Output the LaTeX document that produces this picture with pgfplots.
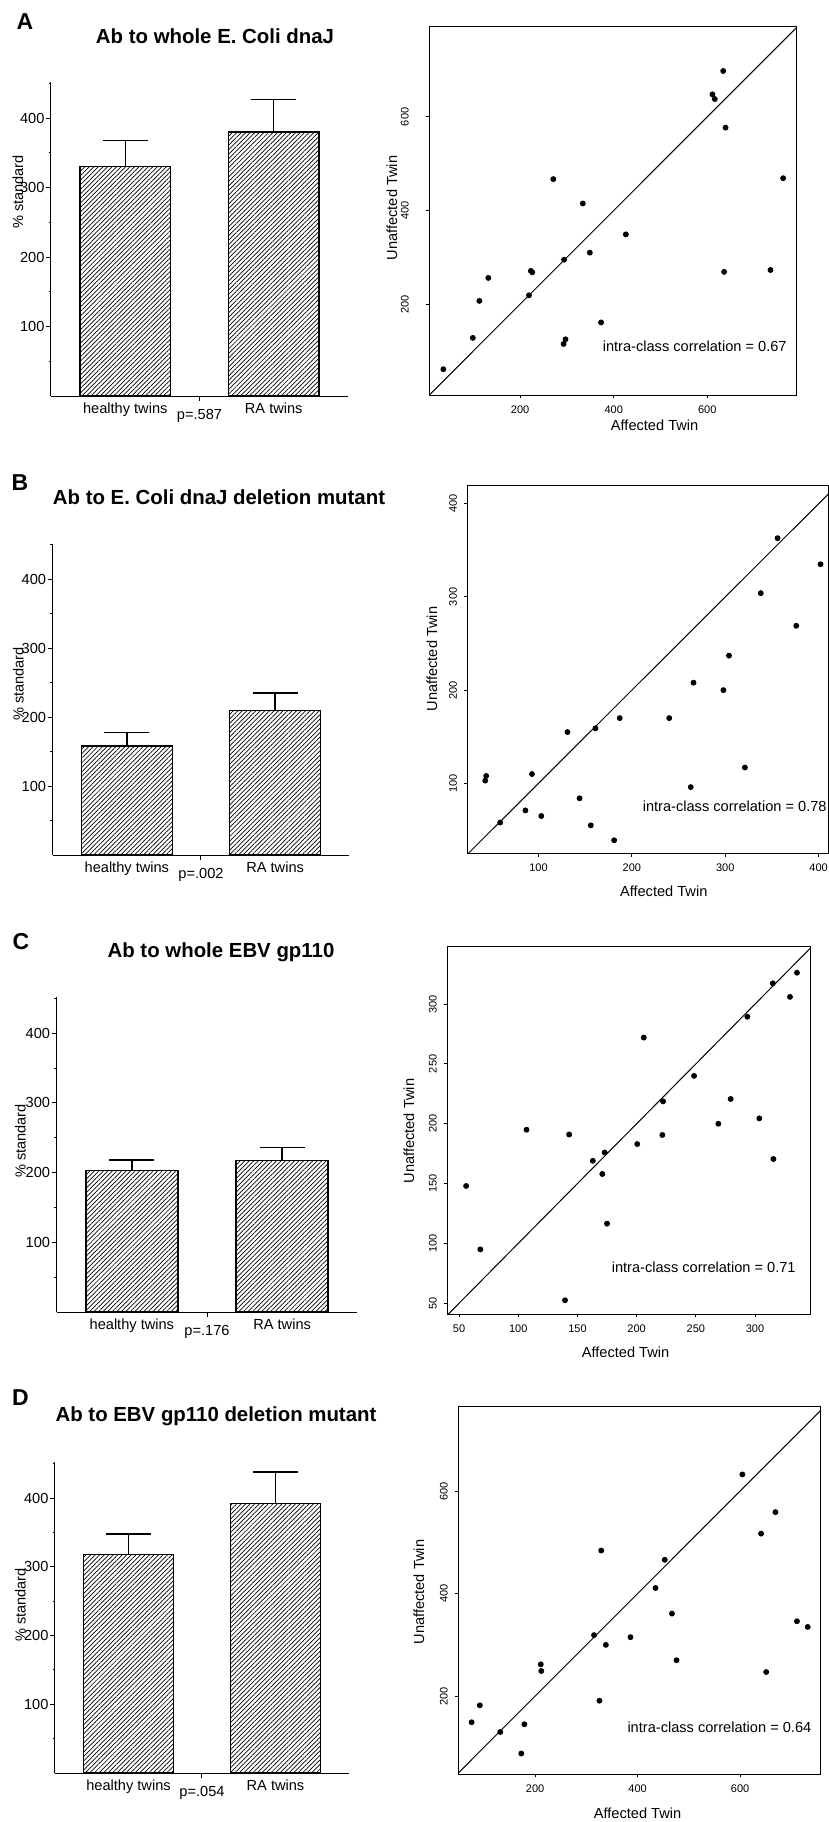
\documentclass[border=0pt]{standalone}
\usepackage{fontspec}
\setmainfont{Liberation Sans}
\usepackage{pgfplots}
\pgfplotsset{compat=1.18}
\usetikzlibrary{patterns.meta}

% 1 px of the reference = 0.5pt
\newcommand{\fbar}{\fontsize{7.3}{8.5}\selectfont}
\newcommand{\fsc}{\fontsize{5.5}{6.5}\selectfont}
\newcommand{\ftitle}{\fontsize{10.2}{12}\selectfont\bfseries}
\newcommand{\fletter}{\fontsize{11.5}{13}\selectfont\bfseries}

\pgfplotsset{
  barax/.style={
    scale only axis, xmin=0, xmax=1, ymin=0, ymax=452,
    axis x line=bottom, axis y line=left,
    axis line style={-, line width=0.5pt},
    ytick={100,200,300,400}, minor ytick={50,150,250,350,450},
    tick align=outside, major tick length=2.3pt, minor tick length=1.2pt,
    tick style={black, line width=0.5pt},
    xtick={0.5},
    xticklabel style={yshift=-1pt},
    extra x ticks={0.25,0.75},
    extra x tick labels={healthy twins,RA twins},
    extra x tick style={major tick length=0pt, xticklabel style={yshift=1pt}},
    ticklabel style={font=\fbar},
    yticklabel style={inner sep=0.8pt},
    /pgf/number format/assume math mode=true,
    clip=false,
  },
  hatch/.style={
    ybar, bar width=0.306, draw=black, line width=0.7pt,
    pattern={Lines[angle=45,distance=1.6pt,line width=0.35pt]},
    error bars/.cd, y dir=plus, y explicit,
    error bar style={line width=0.7pt},
    error mark options={rotate=90, line width=0.7pt, mark size=11.25pt},
  },
  scat/.style={
    scale only axis, tick pos=left,
    axis line style={line width=0.5pt},
    tick align=outside, major tick length=1.7pt,
    tick style={black, line width=0.5pt},
    ticklabel style={font=\fsc},
    yticklabel style={rotate=90, anchor=south},
    /pgf/number format/assume math mode=true,
  },
  dots/.style={only marks, mark=*, mark size=1.25pt, black},
  diag/.style={black, line width=0.5pt, forget plot},
}

\begin{document}
\begin{tikzpicture}
\path[use as bounding box] (0,0) rectangle (414.5pt,-911pt);

% ---------------- A ----------------
\node[font=\fletter] at (12.5pt,-11pt) {A};
\node[font=\ftitle] at (107.5pt,-18pt) {Ab to whole E. Coli dnaJ};
\node[font=\fbar, rotate=90, inner sep=0pt] at (9pt,-96pt) {\% standard};
\begin{axis}[barax, at={(25.5pt,-198pt)}, anchor=south west,
  width=148.5pt, height=157pt, xticklabels={p=.587}]
\addplot[hatch] coordinates {(0.25,330) +- (0,38) (0.75,380) +- (0,47)};
\end{axis}

\begin{axis}[scat, at={(214.65pt,-197.5pt)}, anchor=south west,
  width=183.7pt, height=184.5pt, xmin=6, xmax=791, ymin=6, ymax=794,
  xtick={200,400,600}, ytick={200,400,600}, yticklabel shift=5pt]
\addplot[diag] coordinates {(0,0) (1000,1000)};
\addplot[dots] coordinates {
  (36,61) (99,128) (113,207) (132,256) (219,219) (223,271) (226,268)
  (271,467) (294,295) (293,115) (297,125) (334,415) (349,310) (373,161)
  (426,349) (611,648) (616,638) (634,698) (639,577) (636,269) (735,273)
  (762,469) };
\end{axis}
\node[font=\fbar, rotate=90, inner sep=0pt] at (196pt,-104pt) {Unaffected Twin};
\node[font=\fbar, inner sep=0pt] at (327.3pt,-212.8pt) {Affected Twin};
\node[font=\fbar, anchor=east, inner sep=0pt] at (393.5pt,-173.35pt) {intra-class correlation = 0.67};

% ---------------- B ----------------
\node[font=\fletter] at (10pt,-241.5pt) {B};
\node[font=\ftitle] at (109.5pt,-248.5pt) {Ab to E. Coli dnaJ deletion mutant};
\node[font=\fbar, rotate=90, inner sep=0pt] at (9.25pt,-342pt) {\% standard};
\begin{axis}[barax, at={(26.35pt,-427.5pt)}, anchor=south west,
  width=148.3pt, height=155.7pt, xticklabels={p=.002}]
\addplot[hatch] coordinates {(0.25,158) +- (0,20) (0.75,210) +- (0,25)};
\end{axis}

\begin{axis}[scat, at={(233.75pt,-426.65pt)}, anchor=south west,
  width=180.25pt, height=184.15pt, xmin=24, xmax=410, ymin=25, ymax=420,
  xtick={100,200,300,400}, ytick={100,200,300,400}]
\addplot[diag] coordinates {(0,0) (1000,1000)};
\addplot[dots] coordinates {
  (43,103) (44,108) (59,58) (86,71) (93,110) (103,65) (131,155) (144,84)
  (156,55) (161,159) (181,39) (187,170) (240,170) (266,208) (263,96)
  (298,200) (304,237) (321,117) (338,304) (356,363) (376,269) (402,335) };
\end{axis}
\node[font=\fbar, rotate=90, inner sep=0pt] at (216pt,-329.5pt) {Unaffected Twin};
\node[font=\fbar, inner sep=0pt] at (331.85pt,-445.85pt) {Affected Twin};
\node[font=\fbar, anchor=east, inner sep=0pt] at (413.5pt,-403.35pt) {intra-class correlation = 0.78};

% ---------------- C ----------------
\node[font=\fletter] at (10.5pt,-471pt) {C};
\node[font=\ftitle] at (110.5pt,-476pt) {Ab to whole EBV gp110};
\node[font=\fbar, rotate=90, inner sep=0pt] at (10.25pt,-570.5pt) {\% standard};
\begin{axis}[barax, at={(28.35pt,-656pt)}, anchor=south west,
  width=150.3pt, height=157.5pt, xticklabels={p=.176}]
\addplot[hatch] coordinates {(0.25,203) +- (0,15) (0.75,217) +- (0,19)};
\end{axis}

\begin{axis}[scat, at={(223.6pt,-657pt)}, anchor=south west,
  width=181.75pt, height=184pt, xmin=40, xmax=347, ymin=41, ymax=348.5,
  xtick={50,100,150,200,250,300}, ytick={50,100,150,200,250,300}]
\addplot[diag] coordinates {(0,0) (1000,1000)};
\addplot[dots] coordinates {
  (56,148) (68,95) (107,195) (143,191) (139.5,52.5) (163,169) (171,158)
  (173,176) (175,116.5) (200.5,183) (206,272) (221.7,190.6) (222.3,218.7)
  (248.5,240) (269,200) (279.4,220.7) (293.5,289.4) (303.6,204.5)
  (315,317.3) (315.5,170.5) (329.5,306) (335.4,326.2) };
\end{axis}
\node[font=\fbar, rotate=90, inner sep=0pt] at (204.5pt,-565.5pt) {Unaffected Twin};
\node[font=\fbar, inner sep=0pt] at (312.75pt,-676.35pt) {Affected Twin};
\node[font=\fbar, anchor=east, inner sep=0pt] at (398pt,-633.85pt) {intra-class correlation = 0.71};

% ---------------- D ----------------
\node[font=\fletter] at (10.25pt,-699pt) {D};
\node[font=\ftitle] at (108pt,-708pt) {Ab to EBV gp110 deletion mutant};
\node[font=\fbar, rotate=90, inner sep=0pt] at (10.25pt,-802.5pt) {\% standard};
\begin{axis}[barax, at={(27.5pt,-886.5pt)}, anchor=south west,
  width=147pt, height=155.3pt, xticklabels={p=.054}]
\addplot[hatch] coordinates {(0.25,318) +- (0,30) (0.75,392) +- (0,46)};
\end{axis}

\begin{axis}[scat, at={(229.15pt,-887pt)}, anchor=south west,
  width=180.85pt, height=184pt, xmin=50, xmax=756, ymin=48, ymax=766,
  xtick={200,400,600}, ytick={200,400,600}]
\addplot[diag] coordinates {(0,0) (1000,1000)};
\addplot[dots] coordinates {
  (76,149) (92,182) (132,130) (173,88) (179,145) (211,262) (212,249)
  (315,319) (325.5,191) (329,484) (338,300) (386,315) (435,411) (453,466)
  (467,361) (476,270) (604.5,632.5) (641,517) (651,247) (669,559)
  (711,346) (732,335) };
\end{axis}
\node[font=\fbar, rotate=90, inner sep=0pt] at (209.5pt,-796pt) {Unaffected Twin};
\node[font=\fbar, inner sep=0pt] at (318.75pt,-906.5pt) {Affected Twin};
\node[font=\fbar, anchor=east, inner sep=0pt] at (405.85pt,-863.85pt) {intra-class correlation = 0.64};
\end{tikzpicture}
\end{document}
